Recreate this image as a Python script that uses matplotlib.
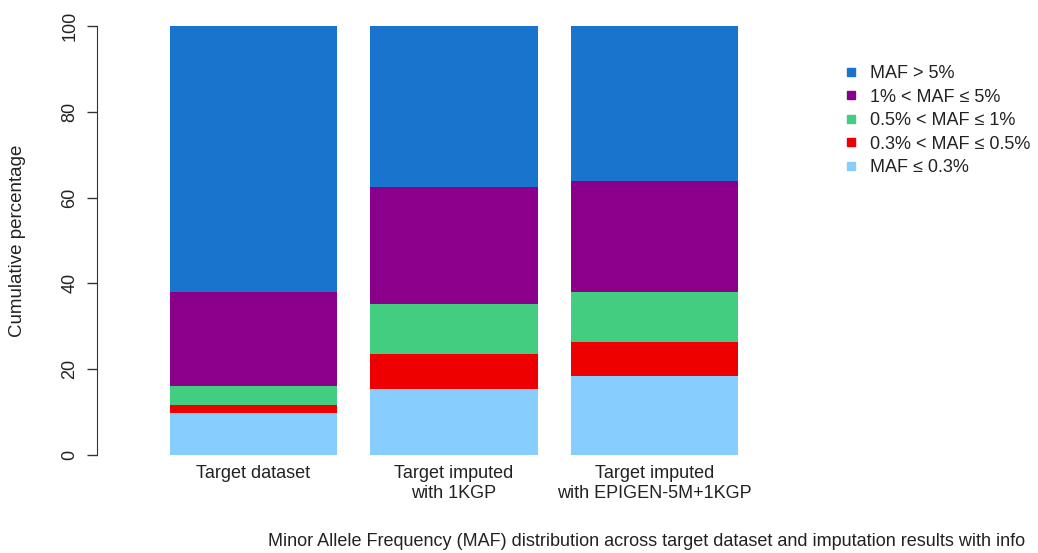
import matplotlib
matplotlib.use("Agg")
import matplotlib.pyplot as plt
from matplotlib.lines import Line2D
import numpy as np

# MAF classes, bottom of the stack first
clases = ["MAF ≤ 0.3%", "0.3% < MAF ≤ 0.5%", "0.5% < MAF ≤ 1%", "1% < MAF ≤ 5%", "MAF > 5%"]
colores = ["#87CEFF", "#EE0000", "#43CD80", "#8B008B", "#1874CD"]

grupos = ["Target dataset", "Target imputed\nwith 1KGP", "Target imputed\nwith EPIGEN-5M+1KGP"]

# percentage of variants in each class (same order as `clases`)
target = [9.7, 1.95, 4.45, 21.9, 62.0]
imp_1kgp = [15.5, 8.1, 11.6, 27.2, 37.6]
imp_epigen = [18.3, 8.0, 11.7, 25.8, 36.2]

datos = np.array([target, imp_1kgp, imp_epigen])

plt.rcParams["font.family"] = ["Liberation Sans", "DejaVu Sans"]

fig = plt.figure(figsize=(10.38, 5.53), dpi=100)
ax = fig.add_axes([97 / 1038, 98 / 553, 703 / 1038, 429 / 553])

# barplot-style spacing: width 1, gap 0.2
x = 0.7 + 1.2 * np.arange(len(grupos))
base = np.zeros(len(grupos))
for i, color in enumerate(colores):
    ax.bar(x, datos[:, i], bottom=base, width=1.0, color=color, linewidth=0)
    base += datos[:, i]

ax.set_xlim(-0.237, 3.971)
ax.set_ylim(0, 100)
for lado in ["top", "right", "bottom"]:
    ax.spines[lado].set_visible(False)
ax.spines["left"].set_color("#333333")

ax.set_yticks([0, 20, 40, 60, 80, 100])
ax.tick_params(axis="y", length=7.5, width=1, color="#333333", pad=6,
               labelsize=13, labelcolor="#222222")
for lbl in ax.get_yticklabels():
    lbl.set_rotation(90)
    lbl.set_va("center")

ax.set_xticks(x)
ax.set_xticklabels(grupos, fontsize=13, color="#222222", linespacing=1.28)
ax.tick_params(axis="x", length=0, pad=7)

fig.text(18 / 1038, 1 - 241 / 553, "Cumulative percentage", rotation=90,
         ha="center", va="center", fontsize=13.5, color="#222222")

fig.text(268 / 1038, 1 - 541 / 553,
         "Minor Allele Frequency (MAF) distribution across target dataset and imputation results with info",
         ha="left", va="center", fontsize=13, color="#222222")

handles = [Line2D([], [], marker="s", linestyle="", markersize=6,
                  markerfacecolor=c, markeredgecolor=c)
           for c in colores[::-1]]
fig.legend(handles, clases[::-1], loc="upper left",
           bbox_to_anchor=(837 / 1038, 1 - 58 / 553), frameon=False,
           fontsize=13, handlelength=0.8, handletextpad=0.6, labelspacing=0.36,
           borderaxespad=0, labelcolor="#222222")

fig.savefig("out.png", dpi=100)
